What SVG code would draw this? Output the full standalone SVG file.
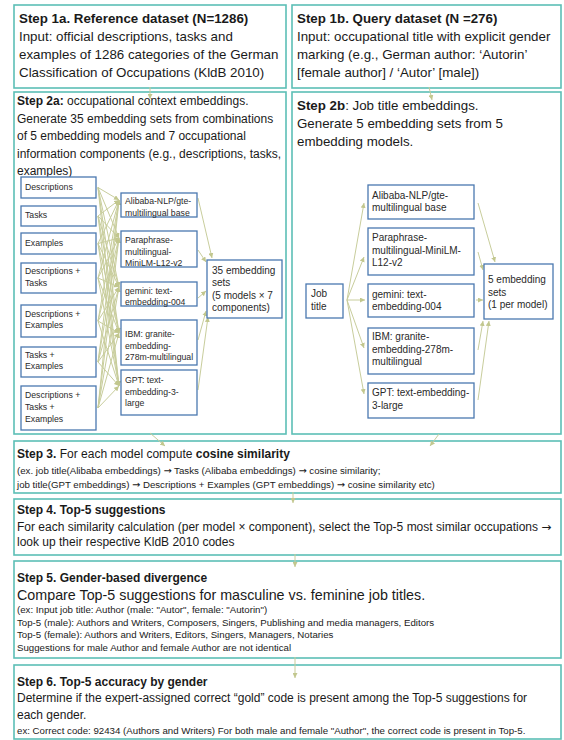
<svg xmlns="http://www.w3.org/2000/svg" width="564" height="740" viewBox="0 0 564 740">
<defs>
<marker id="ah" markerWidth="5" markerHeight="5" refX="5" refY="2.5" orient="auto" markerUnits="userSpaceOnUse"><path d="M0,0 L5,2.5 L0,5 z" fill="#c2c78e"/></marker>
</defs>
<style>
.step{fill:#fff;stroke:#5cbfb6;stroke-width:1.6}
.node{fill:#fff;stroke:#4a78b0;stroke-width:1.3}
text{font-family:"Liberation Sans",Arial,Helvetica,sans-serif;fill:#1a1a1a}
.h{font-size:13.33px;font-weight:bold}
.b13{font-size:13.33px}
.b12{font-size:12px}
.b14{font-size:14.3px}
.hs{font-size:12px;font-weight:bold}
.sm{font-size:9.7px}
.n2a{font-size:8.7px;fill:#2a2a2a}
.n2b{font-size:10px;fill:#2a2a2a}
.bo{font-weight:bold}
.ar{font-family:"DejaVu Sans",sans-serif}
.c{stroke:#c8cd9c;stroke-width:1;fill:none;marker-end:url(#ah)}
</style>
<rect x="0" y="0" width="564" height="740" fill="#fff"/>

<g id="step1a">
<rect class="step" x="14" y="5" width="272" height="83"/>
<text class="h" x="19" y="23">Step 1a. Reference dataset (N=1286)</text>
<text class="b13" x="19" y="41">Input: official descriptions, tasks and</text>
<text class="b13" x="19" y="59">examples of 1286 categories of the German</text>
<text class="b13" x="19" y="77">Classification of Occupations (KldB 2010)</text>
</g>

<g id="step1b">
<rect class="step" x="292" y="5" width="269" height="83"/>
<text class="h" x="297" y="23">Step 1b. Query dataset (N =276)</text>
<text class="b13" x="297" y="41">Input: occupational title with explicit gender</text>
<text class="b13" x="297" y="59">marking (e.g., German author: ‘Autorin’</text>
<text class="b13" x="297" y="77">[female author] / ‘Autor’ [male])</text>
</g>

<g id="step2a">
<rect class="step" x="14" y="92" width="272" height="342"/>
<text class="b12" x="17" y="105"><tspan class="bo">Step 2a:</tspan> occupational context embeddings.</text>
<text class="b12" x="17" y="122.5">Generate 35 embedding sets from combinations</text>
<text class="b12" x="17" y="140">of 5 embedding models and 7 occupational</text>
<text class="b12" x="17" y="157.5">information components (e.g., descriptions, tasks,</text>
<text class="b12" x="17" y="175">examples)</text>
</g>

<g id="step2b">
<rect class="step" x="292" y="92" width="269" height="342"/>
<text class="b13" x="297" y="109.5"><tspan class="bo">Step 2b</tspan>: Job title embeddings.</text>
<text class="b13" x="297" y="127.5">Generate 5 embedding sets from 5</text>
<text class="b13" x="297" y="145.5">embedding models.</text>
</g>

<g id="step3">
<rect class="step" x="14" y="441" width="547" height="52"/>
<text class="b12" x="17" y="457.5"><tspan class="bo">Step 3.</tspan> For each model compute <tspan class="bo">cosine similarity</tspan></text>
<text class="sm" x="17" y="473.5">(ex. job title(Alibaba embeddings) <tspan class="ar">→</tspan> Tasks (Alibaba embeddings) <tspan class="ar">→</tspan> cosine similarity;</text>
<text class="sm" x="17" y="488">job title(GPT embeddings) <tspan class="ar">→</tspan> Descriptions + Examples (GPT embeddings) <tspan class="ar">→</tspan> cosine similarity etc)</text>
</g>

<g id="step4">
<rect class="step" x="14" y="499" width="547" height="56"/>
<text class="hs" x="17" y="514">Step 4. Top-5 suggestions</text>
<text class="b12" x="17" y="531">For each similarity calculation (per model × component), select the Top-5 most similar occupations <tspan class="ar">→</tspan></text>
<text class="b12" x="17" y="546">look up their respective KldB 2010 codes</text>
</g>

<g id="step5">
<rect class="step" x="14" y="561" width="547" height="97"/>
<text class="hs" x="17" y="582">Step 5. Gender-based divergence</text>
<text class="b14" x="17" y="599.5">Compare Top-5 suggestions for masculine vs. feminine job titles.</text>
<text class="sm" x="17" y="612.5">(ex: Input job title: Author (male: "Autor", female: "Autorin")</text>
<text class="sm" x="17" y="625.5">Top-5 (male): Authors and Writers, Composers, Singers, Publishing and media managers, Editors</text>
<text class="sm" x="17" y="638">Top-5 (female): Authors and Writers, Editors, Singers, Managers, Notaries</text>
<text class="sm" x="17" y="651">Suggestions for male Author and female Author are not identical</text>
</g>

<g id="step6">
<rect class="step" x="14" y="665" width="547" height="74"/>
<text class="hs" x="17" y="686">Step 6. Top-5 accuracy by gender</text>
<text class="b12" x="17" y="702">Determine if the expert-assigned correct “gold” code is present among the Top-5 suggestions for</text>
<text class="b12" x="17" y="718.5">each gender.</text>
<text class="sm" x="17" y="733.5">ex: Correct code: 92434 (Authors and Writers) For both male and female "Author", the correct code is present in Top-5.</text>
</g>

<g id="connectors">
<line class="c" x1="150" y1="87" x2="150" y2="99"/>
<line class="c" x1="429" y1="87" x2="432" y2="100"/>
<line class="c" x1="150" y1="433" x2="165" y2="446"/>
<line class="c" x1="439" y1="434" x2="430" y2="446"/>
<line class="c" x1="293" y1="492" x2="293" y2="503"/>
<line class="c" x1="295" y1="554" x2="295" y2="567"/>
<line class="c" x1="295" y1="657" x2="295" y2="678"/>
<line class="c" x1="98" y1="187.5" x2="119" y2="200"/>
<line class="c" x1="98" y1="187.5" x2="119" y2="238"/>
<line class="c" x1="98" y1="187.5" x2="119" y2="287"/>
<line class="c" x1="98" y1="187.5" x2="119" y2="333"/>
<line class="c" x1="98" y1="187.5" x2="119" y2="386"/>
<line class="c" x1="98" y1="216" x2="119" y2="200"/>
<line class="c" x1="98" y1="216" x2="119" y2="238"/>
<line class="c" x1="98" y1="216" x2="119" y2="287"/>
<line class="c" x1="98" y1="216" x2="119" y2="333"/>
<line class="c" x1="98" y1="216" x2="119" y2="386"/>
<line class="c" x1="98" y1="243.5" x2="119" y2="200"/>
<line class="c" x1="98" y1="243.5" x2="119" y2="238"/>
<line class="c" x1="98" y1="243.5" x2="119" y2="287"/>
<line class="c" x1="98" y1="243.5" x2="119" y2="333"/>
<line class="c" x1="98" y1="243.5" x2="119" y2="386"/>
<line class="c" x1="98" y1="278" x2="119" y2="200"/>
<line class="c" x1="98" y1="278" x2="119" y2="238"/>
<line class="c" x1="98" y1="278" x2="119" y2="287"/>
<line class="c" x1="98" y1="278" x2="119" y2="333"/>
<line class="c" x1="98" y1="278" x2="119" y2="386"/>
<line class="c" x1="98" y1="321" x2="119" y2="200"/>
<line class="c" x1="98" y1="321" x2="119" y2="238"/>
<line class="c" x1="98" y1="321" x2="119" y2="287"/>
<line class="c" x1="98" y1="321" x2="119" y2="333"/>
<line class="c" x1="98" y1="321" x2="119" y2="386"/>
<line class="c" x1="98" y1="362" x2="119" y2="200"/>
<line class="c" x1="98" y1="362" x2="119" y2="238"/>
<line class="c" x1="98" y1="362" x2="119" y2="287"/>
<line class="c" x1="98" y1="362" x2="119" y2="333"/>
<line class="c" x1="98" y1="362" x2="119" y2="386"/>
<line class="c" x1="98" y1="408" x2="119" y2="200"/>
<line class="c" x1="98" y1="408" x2="119" y2="238"/>
<line class="c" x1="98" y1="408" x2="119" y2="287"/>
<line class="c" x1="98" y1="408" x2="119" y2="333"/>
<line class="c" x1="98" y1="408" x2="119" y2="386"/>
<line class="c" x1="198" y1="198" x2="212" y2="258"/>
<line class="c" x1="198" y1="250" x2="206" y2="262"/>
<line class="c" x1="198" y1="298" x2="206" y2="291"/>
<line class="c" x1="198" y1="340" x2="206" y2="311"/>
<line class="c" x1="198" y1="390" x2="208" y2="317"/>
<line class="c" x1="347" y1="300" x2="364" y2="203"/>
<line class="c" x1="347" y1="300" x2="364" y2="257"/>
<line class="c" x1="347" y1="300" x2="365" y2="300"/>
<line class="c" x1="347" y1="300" x2="364" y2="348"/>
<line class="c" x1="347" y1="300" x2="364" y2="394"/>
<line class="c" x1="478" y1="203" x2="495" y2="262"/>
<line class="c" x1="478" y1="252" x2="483" y2="270"/>
<line class="c" x1="476" y1="300" x2="483" y2="300"/>
<line class="c" x1="478" y1="350" x2="483" y2="321"/>
<line class="c" x1="478" y1="400" x2="489" y2="321"/>
</g>

<g id="comp-descriptions"><rect class="node" x="21" y="177" width="75" height="21"/><text class="n2a" x="25" y="190">Descriptions</text></g>
<g id="comp-tasks"><rect class="node" x="21" y="206" width="75" height="20"/><text class="n2a" x="25" y="217.5">Tasks</text></g>
<g id="comp-examples"><rect class="node" x="21" y="233" width="75" height="21"/><text class="n2a" x="25" y="245.5">Examples</text></g>
<g id="comp-desc-tasks"><rect class="node" x="21" y="263" width="75" height="30"/><text class="n2a" x="25" y="274">Descriptions +</text><text class="n2a" x="25" y="286">Tasks</text></g>
<g id="comp-desc-examples"><rect class="node" x="21" y="305" width="75" height="32"/><text class="n2a" x="25" y="316.5">Descriptions +</text><text class="n2a" x="25" y="328">Examples</text></g>
<g id="comp-tasks-examples"><rect class="node" x="21" y="347" width="75" height="30"/><text class="n2a" x="25" y="357.5">Tasks +</text><text class="n2a" x="25" y="369">Examples</text></g>
<g id="comp-all"><rect class="node" x="21" y="386" width="75" height="44"/><text class="n2a" x="25" y="398">Descriptions +</text><text class="n2a" x="25" y="410">Tasks +</text><text class="n2a" x="25" y="421.5">Examples</text></g>

<g id="a-alibaba"><rect class="node" x="121" y="193" width="76" height="24"/><text class="n2a" x="125" y="204">Alibaba-NLP/gte-</text><text class="n2a" x="125" y="215.5">multilingual base</text></g>
<g id="a-paraphrase"><rect class="node" x="121" y="231" width="76" height="36"/><text class="n2a" x="125" y="243">Paraphrase-</text><text class="n2a" x="125" y="255">multilingual-</text><text class="n2a" x="125" y="266">MiniLM-L12-v2</text></g>
<g id="a-gemini"><rect class="node" x="121" y="282" width="76" height="24"/><text class="n2a" x="125" y="294">gemini: text-</text><text class="n2a" x="125" y="305">embedding-004</text></g>
<g id="a-ibm"><rect class="node" x="121" y="320" width="76" height="45"/><text class="n2a" x="125" y="337">IBM: granite-</text><text class="n2a" x="125" y="349">embedding-</text><text class="n2a" x="125" y="360">278m-multilingual</text></g>
<g id="a-gpt"><rect class="node" x="121" y="370" width="76" height="45"/><text class="n2a" x="125" y="383">GPT: text-</text><text class="n2a" x="125" y="395">embedding-3-</text><text class="n2a" x="125" y="406">large</text></g>
<g id="a-35sets"><rect class="node" x="207" y="260" width="75" height="58"/><text class="n2b" x="212" y="273.5">35 embedding</text><text class="n2b" x="212" y="286">sets</text><text class="n2b" x="212" y="298.5">(5 models × 7</text><text class="n2b" x="212" y="310.5">components)</text></g>

<g id="b-jobtitle"><rect class="node" x="306" y="284" width="37" height="34"/><text class="n2b" x="311" y="297">Job</text><text class="n2b" x="311" y="309.5">title</text></g>
<g id="b-alibaba"><rect class="node" x="368" y="185" width="106" height="34"/><text class="n2b" x="372" y="198.5">Alibaba-NLP/gte-</text><text class="n2b" x="372" y="210.5">multilingual base</text></g>
<g id="b-paraphrase"><rect class="node" x="368" y="228" width="106" height="47"/><text class="n2b" x="372" y="241">Paraphrase-</text><text class="n2b" x="372" y="253.5">multilingual-MiniLM-</text><text class="n2b" x="372" y="266">L12-v2</text></g>
<g id="b-gemini"><rect class="node" x="368" y="284" width="106" height="33"/><text class="n2b" x="372" y="297.5">gemini: text-</text><text class="n2b" x="372" y="309.5">embedding-004</text></g>
<g id="b-ibm"><rect class="node" x="368" y="328" width="106" height="46"/><text class="n2b" x="372" y="340">IBM: granite-</text><text class="n2b" x="372" y="352.5">embedding-278m-</text><text class="n2b" x="372" y="365">multilingual</text></g>
<g id="b-gpt"><rect class="node" x="368" y="383" width="106" height="35"/><text class="n2b" x="372" y="396">GPT: text-embedding-</text><text class="n2b" x="372" y="408.5">3-large</text></g>
<g id="b-5sets"><rect class="node" x="484" y="264" width="69" height="55"/><text class="n2b" x="488" y="282.5">5 embedding</text><text class="n2b" x="488" y="296">sets</text><text class="n2b" x="488" y="308">(1 per model)</text></g>
</svg>
